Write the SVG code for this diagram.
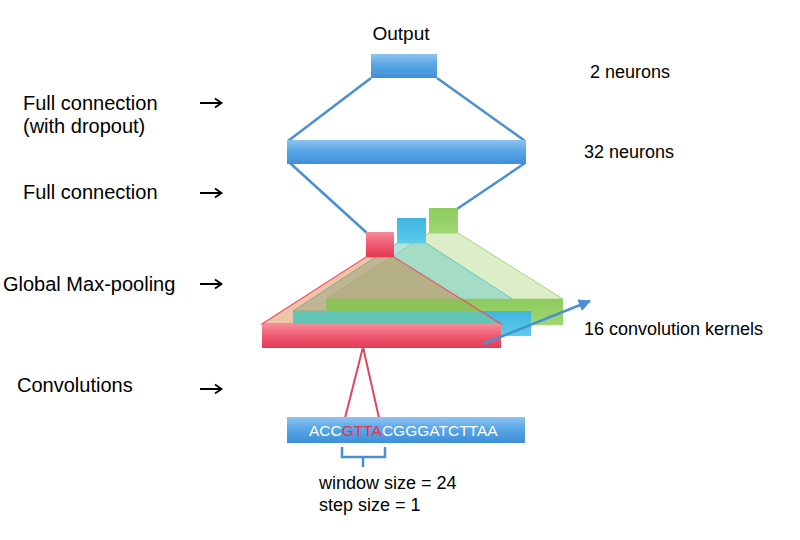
<svg xmlns="http://www.w3.org/2000/svg" width="800" height="540" viewBox="0 0 800 540">
<defs>
<linearGradient id="gBlue" x1="0" y1="0" x2="0" y2="1">
<stop offset="0" stop-color="#8cc3f0"/><stop offset="0.45" stop-color="#5aa6e6"/><stop offset="1" stop-color="#3f8fd8"/>
</linearGradient>
<linearGradient id="gRed" x1="0" y1="0" x2="0" y2="1">
<stop offset="0" stop-color="#f58c9a"/><stop offset="0.5" stop-color="#ee5a70"/><stop offset="1" stop-color="#e63a55"/>
</linearGradient>
<linearGradient id="gCyan" x1="0" y1="0" x2="0" y2="1">
<stop offset="0" stop-color="#3fb5e0"/><stop offset="1" stop-color="#5ccbec"/>
</linearGradient>
<linearGradient id="gGreen" x1="0" y1="0" x2="0" y2="1">
<stop offset="0" stop-color="#8ccb5c"/><stop offset="1" stop-color="#9fd872"/>
</linearGradient>
<marker id="ah" viewBox="0 0 10 10" refX="9" refY="5" markerWidth="5" markerHeight="5" orient="auto" markerUnits="strokeWidth">
<path d="M0,0 L10,5 L0,10 z" fill="#4a8fd2"/>
</marker>
<style>
.lbl{font-family:"Liberation Sans",Arial,sans-serif;font-size:20px;fill:#000}
.rl{font-family:"Liberation Sans",Arial,sans-serif;font-size:18px;fill:#000}
.blue{stroke:#4a8fd2;stroke-width:2.5;fill:none}
.redl{stroke:#e2465c;stroke-width:2;fill:none}
.arr{stroke:#000;stroke-width:1.8;fill:none}
.seq{font-family:"Liberation Sans",Arial,sans-serif;font-size:15.5px;fill:#ffffff}
</style>
</defs>
<rect width="800" height="540" fill="#ffffff"/>

<g id="connectors">
<line class="blue" x1="371" y1="78" x2="288" y2="141"/>
<line class="blue" x1="437" y1="78" x2="525" y2="141"/>
<line class="blue" x1="290" y1="163" x2="368" y2="234"/>
<line class="blue" x1="525" y1="163" x2="457" y2="209"/>
<polyline class="redl" points="345,418 363,347 379,418"/>
</g>

<g id="output">
<rect x="371" y="54" width="66" height="24" fill="url(#gBlue)"/>
<text class="rl" x="401" y="40" text-anchor="middle" style="font-size:19px">Output</text>
</g>

<g id="dense32">
<rect x="287" y="140" width="239" height="24" fill="url(#gBlue)"/>
</g>

<g id="conv-stack">
<polygon points="429,233 458,233 563,299 326,299" fill="#cfe8b4" fill-opacity="0.75" stroke="#a6d67e" stroke-width="1"/>
<polygon points="397,243 426,243 531,311 293,311" fill="#7fd0c4" fill-opacity="0.6" stroke="#6cc6c0" stroke-width="1"/>
<rect x="326" y="299" width="237" height="26" fill="url(#gGreen)"/>
<rect x="293" y="311" width="238" height="25" fill="url(#gCyan)"/>
<rect x="429" y="208" width="29" height="25" fill="url(#gGreen)"/>
<rect x="397" y="218" width="29" height="25" fill="url(#gCyan)"/>
<polygon points="366,257 394,257 501,324 262,324" fill="#d26e28" fill-opacity="0.4" stroke="#e8566a" stroke-width="1.2"/>
<polygon points="326,299 461,299 480,311 326,311" fill="#8cc25a"/>
<polygon points="293,311 480,311 501,324 293,324" fill="#62c6b6"/>
<line x1="461" y1="299" x2="501" y2="324" stroke="#e8566a" stroke-width="1.2"/>
<rect x="262" y="324" width="239" height="24" fill="url(#gRed)"/>
<rect x="366" y="232" width="28" height="25" fill="url(#gRed)"/>
<line x1="483" y1="344" x2="590" y2="301" stroke="#4a8fd2" stroke-width="2.5" marker-end="url(#ah)"/>
</g>

<g id="sequence">
<rect x="287" y="417" width="238" height="26" fill="url(#gBlue)"/>
<text class="seq" x="309" y="436">ACC<tspan fill="#e8334a">GTTA</tspan>CGGGATCTTAA</text>
<path class="blue" d="M342,447 V457 H385 V447 M363,457 V467"/>
<text class="rl" x="319" y="489">window size = 24</text>
<text class="rl" x="319" y="511">step size = 1</text>
</g>

<g id="left-labels">
<text class="lbl" x="23" y="110">Full connection</text>
<text class="lbl" x="23" y="133">(with dropout)</text>
<text class="lbl" x="23" y="199">Full connection</text>
<text class="lbl" x="3" y="291">Global Max-pooling</text>
<text class="lbl" x="17" y="392">Convolutions</text>
<path class="arr" d="M200,103 H221 M215,98.5 L221.5,103 L215,107.5"/>
<path class="arr" d="M200,193 H221 M215,188.5 L221.5,193 L215,197.5"/>
<path class="arr" d="M200,284 H221 M215,279.5 L221.5,284 L215,288.5"/>
<path class="arr" d="M200,389 H221 M215,384.5 L221.5,389 L215,393.5"/>
</g>

<g id="right-labels">
<text class="rl" x="590" y="78">2 neurons</text>
<text class="rl" x="584" y="158">32 neurons</text>
<text class="rl" x="584" y="335">16 convolution kernels</text>
</g>
</svg>
